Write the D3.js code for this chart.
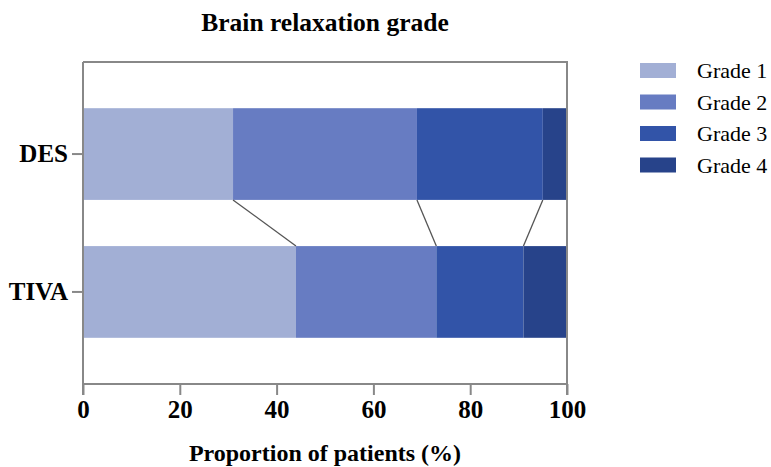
<!DOCTYPE html>
<html>
<head>
<meta charset="utf-8">
<script src="https://cdn.jsdelivr.net/npm/d3@7"></script>
<style>
  body { margin: 0; background: #fff; }
  text { font-family: "Liberation Serif", "Times New Roman", serif; }
</style>
</head>
<body>
<div id="chart"></div>
<script>
// Data
var groups = ["DES", "TIVA"];
var grades = ["Grade 1", "Grade 2", "Grade 3", "Grade 4"];
var desValues = [31, 38, 26, 5];
var tivaValues = [44, 29, 18, 9];
var xTicks = [0, 20, 40, 60, 80, 100];
var gradeColors = ["#a2afd5", "#677cc2", "#3254a8", "#27438a"];

var rows = [desValues, tivaValues].map(function(vals, i) {
  var acc = 0;
  return {
    group: groups[i],
    segs: vals.map(function(v, j) {
      var s = {grade: grades[j], x0: acc, x1: acc + v};
      acc += v;
      return s;
    })
  };
});

var W = 771, H = 467;
var margin = {top: 62, right: 204, bottom: 83, left: 83};
var width = W - margin.left - margin.right,
    height = H - margin.top - margin.bottom;

var svg = d3.select("#chart").append("svg")
  .attr("width", W)
  .attr("height", H);

var g = svg.append("g")
  .attr("transform", "translate(" + margin.left + "," + margin.top + ")");

var x = d3.scaleLinear().domain([0, 100]).range([0, width]);
var y = d3.scaleBand().domain(groups).range([0, height]).padding(0.335);

// Bars
rows.forEach(function(r) {
  g.selectAll(null)
    .data(r.segs)
    .enter()
    .append("rect")
    .attr("x", function(d) { return x(d.x0); })
    .attr("y", y(r.group))
    .attr("width", function(d) { return x(d.x1) - x(d.x0); })
    .attr("height", y.bandwidth())
    .attr("fill", function(d, j) { return gradeColors[j]; });
});

// Connector lines between cumulative boundaries
var links = rows[0].segs.slice(0, 3).map(function(s, j) {
  return {a: s.x1, b: rows[1].segs[j].x1};
});
g.selectAll(".link")
  .data(links)
  .enter()
  .append("line")
  .attr("class", "link")
  .attr("x1", function(d) { return x(d.a); })
  .attr("y1", y("DES") + y.bandwidth())
  .attr("x2", function(d) { return x(d.b); })
  .attr("y2", y("TIVA"))
  .attr("stroke", "#555")
  .attr("stroke-width", 1.3);

// Frame (top and right)
g.append("path")
  .attr("d", "M0,0H" + width + "V" + height)
  .attr("fill", "none")
  .attr("stroke", "#888")
  .attr("stroke-width", 2);

// Axes
var xAxis = g.append("g")
  .attr("transform", "translate(0," + height + ")")
  .call(d3.axisBottom(x).tickValues(xTicks).tickSize(11).tickPadding(5));

var yAxis = g.append("g")
  .call(d3.axisLeft(y).tickSize(11).tickPadding(4));

[xAxis, yAxis].forEach(function(a) {
  a.select(".domain").attr("stroke", "#888").attr("stroke-width", 2);
  a.selectAll(".tick line").attr("stroke", "#888").attr("stroke-width", 2);
  a.selectAll(".tick text")
    .attr("fill", "#000")
    .style("font-size", "25px")
    .style("font-weight", "bold")
    .style("font-family", "'Liberation Serif', serif");
});
yAxis.select(".domain").attr("d", "M0,0V" + height);
xAxis.select(".domain").attr("d", "M0,11V0H" + width + "V11");

// Title
svg.append("text")
  .attr("x", margin.left + width / 2)
  .attr("y", 31)
  .attr("text-anchor", "middle")
  .style("font-size", "25.5px")
  .style("font-weight", "bold")
  .text("Brain relaxation grade");

// X-axis title
svg.append("text")
  .attr("x", margin.left + width / 2)
  .attr("y", 461)
  .attr("text-anchor", "middle")
  .style("font-size", "24px")
  .style("font-weight", "bold")
  .text("Proportion of patients (%)");

// Legend
var legend = svg.append("g").attr("transform", "translate(640,63)");
var li = legend.selectAll(".li")
  .data(grades)
  .enter()
  .append("g")
  .attr("transform", function(d, i) { return "translate(0," + (i * 31.5) + ")"; });
li.append("rect")
  .attr("width", 36)
  .attr("height", 15)
  .attr("fill", function(d, i) { return gradeColors[i]; });
li.append("text")
  .attr("x", 57)
  .attr("y", 15)
  .style("font-size", "22px")
  .text(function(d) { return d; });
</script>
</body>
</html>
